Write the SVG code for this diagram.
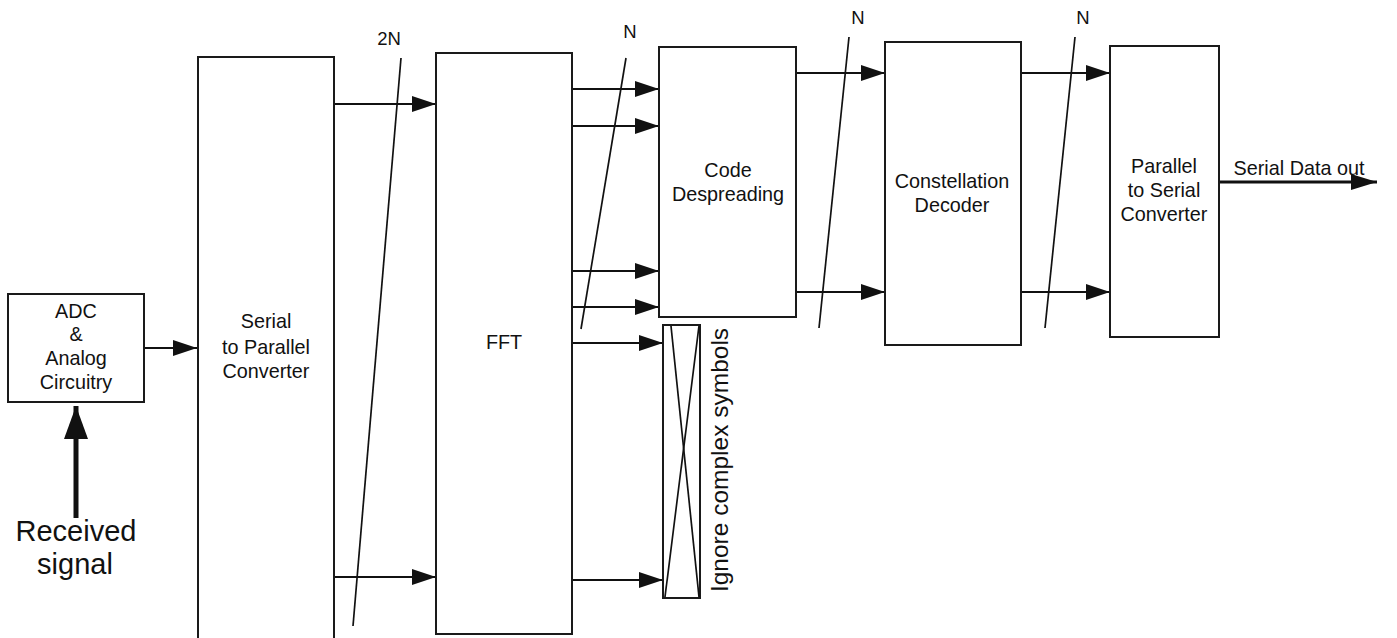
<svg xmlns="http://www.w3.org/2000/svg" width="1397" height="638" viewBox="0 0 1397 638">
<style>
.box{fill:#fff;stroke:#1a1a1a;stroke-width:2}
.lbl{font-family:"Liberation Sans",Arial,sans-serif;font-size:19.8px;fill:#111;text-anchor:middle}
.conn{stroke:#111;stroke-width:1.8;fill:none}
.slash{stroke:#111;stroke-width:1.7;fill:none}
</style>
<defs>
<marker id="ah" markerUnits="userSpaceOnUse" markerWidth="26" markerHeight="18" refX="24" refY="8" orient="auto">
<path d="M0,0 L24,8 L0,16 z" fill="#111"/>
</marker>
<marker id="ahBig" markerUnits="userSpaceOnUse" markerWidth="28" markerHeight="18" refX="26" refY="8" orient="auto">
<path d="M0,0 L26,8 L0,16 z" fill="#111"/>
</marker>
<marker id="ahHuge" markerUnits="userSpaceOnUse" markerWidth="34" markerHeight="26" refX="33" refY="12" orient="auto">
<path d="M0,0 L33,12 L0,24 z" fill="#111"/>
</marker>
</defs>
<rect width="1397" height="638" fill="#fff"/>

<g id="connectors">
<line class="conn" x1="144" y1="348" x2="197" y2="348" marker-end="url(#ah)"/>
<line x1="76" y1="518" x2="76" y2="406" stroke="#111" stroke-width="5" marker-end="url(#ahHuge)"/>
<line class="conn" x1="334" y1="104" x2="436" y2="104" marker-end="url(#ah)"/>
<line class="conn" x1="334" y1="577" x2="436" y2="577" marker-end="url(#ah)"/>
<line class="slash" x1="401" y1="58" x2="353" y2="626"/>
<line class="conn" x1="572" y1="89" x2="659" y2="89" marker-end="url(#ah)"/>
<line class="conn" x1="572" y1="126" x2="659" y2="126" marker-end="url(#ah)"/>
<line class="conn" x1="572" y1="271" x2="659" y2="271" marker-end="url(#ah)"/>
<line class="conn" x1="572" y1="307" x2="659" y2="307" marker-end="url(#ah)"/>
<line class="conn" x1="572" y1="343" x2="663" y2="343" marker-end="url(#ah)"/>
<line class="conn" x1="572" y1="580" x2="663" y2="580" marker-end="url(#ah)"/>
<line class="slash" x1="626" y1="58" x2="581" y2="329"/>
<line class="conn" x1="796" y1="73" x2="885" y2="73" marker-end="url(#ah)"/>
<line class="conn" x1="796" y1="292" x2="885" y2="292" marker-end="url(#ah)"/>
<line class="slash" x1="849" y1="37" x2="819" y2="328"/>
<line class="conn" x1="1021" y1="73" x2="1110" y2="73" marker-end="url(#ah)"/>
<line class="conn" x1="1021" y1="292" x2="1110" y2="292" marker-end="url(#ah)"/>
<line class="slash" x1="1075" y1="37" x2="1045" y2="328"/>
<line x1="1219" y1="182" x2="1377" y2="182" stroke="#111" stroke-width="3" marker-end="url(#ahBig)"/>
<text class="lbl" x="389" y="45" style="font-size:18.5px">2N</text>
<text class="lbl" x="630" y="38" style="font-size:18.5px">N</text>
<text class="lbl" x="858" y="24" style="font-size:18.5px">N</text>
<text class="lbl" x="1083" y="24" style="font-size:18.5px">N</text>
<text class="lbl" x="1299" y="175">Serial Data out</text>
<text class="lbl" x="76" y="541" style="font-size:29px">Received</text>
<text class="lbl" x="75" y="574" style="font-size:29px">signal</text>
</g>

<g id="adc">
<rect class="box" x="8" y="294" width="136" height="108"/>
<text class="lbl" x="76" y="318">ADC</text>
<text class="lbl" x="76" y="341">&amp;</text>
<text class="lbl" x="76" y="365">Analog</text>
<text class="lbl" x="76" y="389">Circuitry</text>
</g>

<g id="s2p">
<rect class="box" x="198" y="57" width="136" height="590"/>
<text class="lbl" x="266" y="328">Serial</text>
<text class="lbl" x="266" y="354">to Parallel</text>
<text class="lbl" x="266" y="378">Converter</text>
</g>

<g id="fft">
<rect class="box" x="436" y="53" width="136" height="581"/>
<text class="lbl" x="504" y="349">FFT</text>
</g>

<g id="despread">
<rect class="box" x="659" y="47" width="137" height="270"/>
<text class="lbl" x="728" y="177">Code</text>
<text class="lbl" x="728" y="201">Despreading</text>
</g>

<g id="ignore">
<rect class="box" x="663" y="325" width="37" height="273"/>
<line class="slash" x1="671" y1="326" x2="699" y2="597"/>
<line class="slash" x1="699" y1="326" x2="665" y2="597"/>
<text class="lbl" transform="translate(728,460) rotate(-90)" style="font-size:24.5px">Ignore complex symbols</text>
</g>

<g id="constellation">
<rect class="box" x="885" y="42" width="136" height="303"/>
<text class="lbl" x="952" y="188">Constellation</text>
<text class="lbl" x="952" y="212">Decoder</text>
</g>

<g id="p2s">
<rect class="box" x="1110" y="46" width="109" height="291"/>
<text class="lbl" x="1164" y="173">Parallel</text>
<text class="lbl" x="1164" y="197">to Serial</text>
<text class="lbl" x="1164" y="221">Converter</text>
</g>
</svg>
